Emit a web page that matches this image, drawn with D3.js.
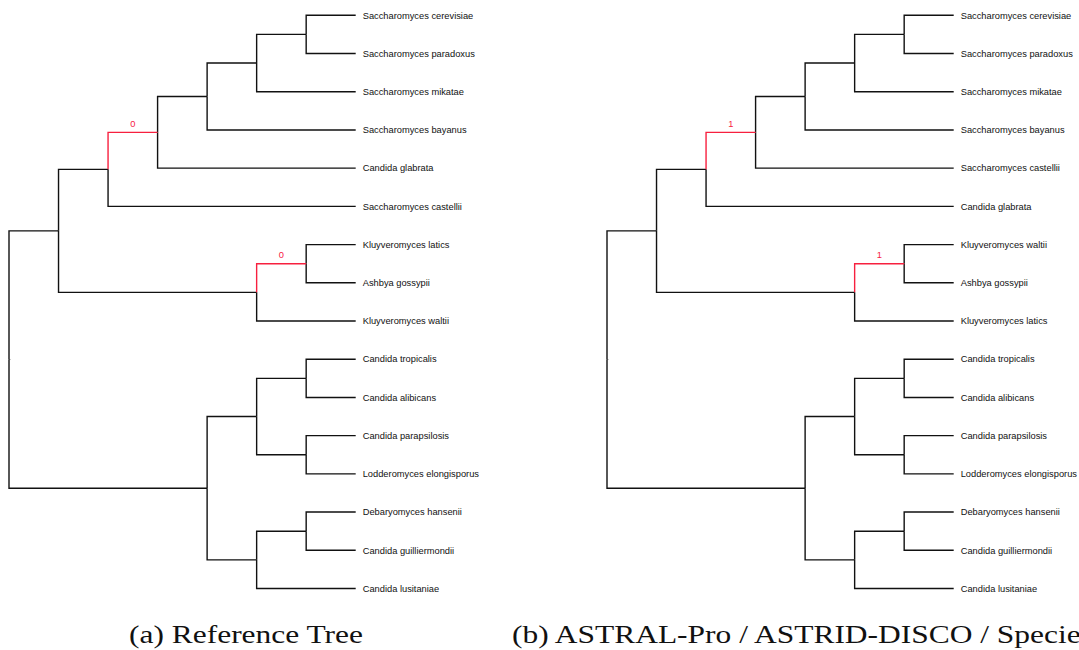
<!DOCTYPE html>
<html>
<head>
<meta charset="utf-8">
<script src="https://cdn.jsdelivr.net/npm/d3@7"></script>
<style>
  body { margin: 0; background: #fff; }
  svg { display: block; }
</style>
</head>
<body>
<div id="chart"></div>
<script>
// tree topologies as nested arrays (leaf = taxon name)
var refTree = [
  [
    [[[[["Saccharomyces cerevisiae", "Saccharomyces paradoxus"], "Saccharomyces mikatae"], "Saccharomyces bayanus"], "Candida glabrata"], "Saccharomyces castellii"],
    [["Kluyveromyces latics", "Ashbya gossypii"], "Kluyveromyces waltii"]
  ],
  [
    [["Candida tropicalis", "Candida alibicans"], ["Candida parapsilosis", "Lodderomyces elongisporus"]],
    [["Debaryomyces hansenii", "Candida guilliermondii"], "Candida lusitaniae"]
  ]
];

var estTree = [
  [
    [[[[["Saccharomyces cerevisiae", "Saccharomyces paradoxus"], "Saccharomyces mikatae"], "Saccharomyces bayanus"], "Saccharomyces castellii"], "Candida glabrata"],
    [["Kluyveromyces waltii", "Ashbya gossypii"], "Kluyveromyces latics"]
  ],
  [
    [["Candida tropicalis", "Candida alibicans"], ["Candida parapsilosis", "Lodderomyces elongisporus"]],
    [["Debaryomyces hansenii", "Candida guilliermondii"], "Candida lusitaniae"]
  ]
];

// clades whose branch is highlighted, with their label
var refRedClades = [
  ["Saccharomyces cerevisiae", "Saccharomyces paradoxus", "Saccharomyces mikatae", "Saccharomyces bayanus", "Candida glabrata"],
  ["Kluyveromyces latics", "Ashbya gossypii"]
];
var refRedValues = [0, 0];

var estRedClades = [
  ["Saccharomyces cerevisiae", "Saccharomyces paradoxus", "Saccharomyces mikatae", "Saccharomyces bayanus", "Saccharomyces castellii"],
  ["Kluyveromyces waltii", "Ashbya gossypii"]
];
var estRedValues = [1, 1];

var captions = ["(a) Reference Tree", "(b) ASTRAL-Pro / ASTRID-DISCO / SpeciesRax"];

var width = 1079, height = 650;
var red = "#f7203f";
var leafTop = 15.3, leafBottom = 588.5, nLeaves = 16;
var step = (leafBottom - leafTop) / (nLeaves - 1);

var svg = d3.select("#chart").append("svg")
    .attr("width", width)
    .attr("height", height);

function drawTree(tree, redClades, redValues, left) {
    var root = d3.hierarchy(tree, d => Array.isArray(d) ? d : null);
    // cluster leaves half a step in from each edge
    d3.cluster()
        .size([step * nLeaves, 346.7])
        .separation(() => 1)(root);

    var key = d => d.leaves().map(l => l.data).sort().join("|");
    var redKeys = redClades.map(c => c.slice().sort().join("|"));

    root.each(d => {
        var i = redKeys.indexOf(key(d));
        d.red = i >= 0;
        d.value = i >= 0 ? redValues[i] : null;
    });

    var g = svg.append("g")
        .attr("transform", "translate(" + left + "," + (leafTop - step / 2) + ")");

    // root stub
    g.append("line")
        .attr("x1", root.y).attr("x2", root.y + 1.5)
        .attr("y1", root.x).attr("y2", root.x)
        .attr("stroke", "#999")
        .attr("stroke-width", 1);

    var links = root.links();
    // black first, red on top
    links.sort((a, b) => (a.target.red ? 1 : 0) - (b.target.red ? 1 : 0));

    g.selectAll(".link")
        .data(links)
        .enter().append("path")
        .attr("class", "link")
        .attr("fill", "none")
        .attr("stroke", d => d.target.red ? red : "#111")
        .attr("stroke-width", 1.4)
        .attr("d", d => "M" + d.source.y + "," + d.source.x +
            "V" + d.target.x + "H" + d.target.y);

    g.selectAll(".support")
        .data(root.descendants().filter(d => d.red))
        .enter().append("text")
        .attr("class", "support")
        .attr("x", d => (d.parent.y + d.y) / 2)
        .attr("y", d => d.x - 9)
        .attr("dy", "0.35em")
        .attr("text-anchor", "middle")
        .style("font-family", "'Liberation Sans', Arial, sans-serif")
        .style("font-size", "9.3px")
        .attr("fill", red)
        .text(d => d.value);

    g.selectAll(".leaf")
        .data(root.leaves())
        .enter().append("text")
        .attr("class", "leaf")
        .attr("x", d => d.y + 7)
        .attr("y", d => d.x)
        .attr("dy", "0.35em")
        .style("font-family", "'Liberation Sans', Arial, sans-serif")
        .style("font-size", "9.3px")
        .attr("fill", "#111")
        .text(d => d.data);
}

drawTree(refTree, refRedClades, refRedValues, 9);
drawTree(estTree, estRedClades, estRedValues, 607);

// captions: Liberation Serif stretched to the width of the LaTeX font
var capA = svg.append("text")
    .attr("x", 129)
    .attr("y", 643)
    .style("font-family", "'Liberation Serif', 'DejaVu Serif', serif")
    .style("font-size", "25px")
    .attr("fill", "#111")
    .text(captions[0]);
var stretch = 234 / capA.node().getComputedTextLength();
capA.attr("textLength", 234).attr("lengthAdjust", "spacingAndGlyphs");

var capB = svg.append("text")
    .attr("x", 512)
    .attr("y", 643)
    .style("font-family", "'Liberation Serif', 'DejaVu Serif', serif")
    .style("font-size", "25px")
    .attr("fill", "#111")
    .text(captions[1]);
capB.attr("textLength", capB.node().getComputedTextLength() * stretch)
    .attr("lengthAdjust", "spacingAndGlyphs");
</script>
</body>
</html>
